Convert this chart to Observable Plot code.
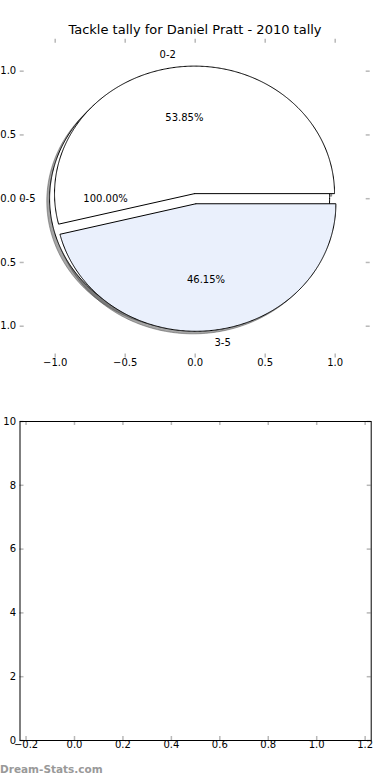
<!DOCTYPE html>
<html><head><meta charset="utf-8">
<script src="https://cdn.jsdelivr.net/npm/d3@7"></script>
<script src="https://cdn.jsdelivr.net/npm/@observablehq/plot@0.6"></script>
<style>
html,body{margin:0;padding:0;background:#fff;}
#wrap{position:relative;width:390px;height:780px;overflow:hidden;font-family:"DejaVu Sans",sans-serif;background:#fff;}
#top{position:absolute;left:0;top:0;}
#bottom{position:absolute;left:0;top:390px;}
#title{position:absolute;left:0;top:22px;width:390px;text-align:center;font-size:13px;line-height:16px;color:#000;white-space:nowrap;}
#mark{position:absolute;left:0;top:762px;font-size:10.5px;line-height:14px;font-weight:bold;color:#999;white-space:nowrap;}
</style></head><body>
<div id="wrap"><div id="top"></div><div id="bottom"></div><div id="title"></div><div id="mark"></div></div>
<script>
const titleText = "Tackle tally for Daniel Pratt - 2010 tally";
const watermarkText = "Dream-Stats.com";
// overall pie (drawn first, underneath)
const totalLabels = ["0-5"];
const totalValues = [13];
const totalColors = ["#ffffff"];
// split pie
const sliceLabels = ["0-2", "3-5"];
const sliceValues = [7, 6];
const sliceColors = ["#ffffff", "#eaf0fc"];
// axis ticks
const pieXTicks = [-1, -0.5, 0, 0.5, 1];
const pieYTicks = [-1, -0.5, 0, 0.5, 1];
const emptyXTicks = [-0.2, 0, 0.2, 0.4, 0.6, 0.8, 1.0, 1.2];
const emptyYTicks = [0, 2, 4, 6, 8, 10];

document.getElementById("title").textContent = titleText;
document.getElementById("mark").textContent = watermarkText;

const EXPLODE = 0.04, LABELDIST = 1.1, PCTDIST = 0.6, SHADOW = 0.02;

function buildPie(labels, values, colors) {
  const sum = d3.sum(values);
  const fr = sum > 1 ? values.map(v => v / sum) : values;
  let t1 = 0;
  return labels.map((label, i) => {
    const t2 = t1 + fr[i];
    const mid = Math.PI * (t1 + t2);
    const dx = Math.cos(mid), dy = Math.sin(mid);
    const cx = EXPLODE * dx, cy = EXPLODE * dy;
    const full = Math.abs(fr[i] - 1) < 1e-9;
    const pts = [];
    if (!full) pts.push({x: cx, y: cy});
    const n = Math.max(4, Math.ceil(fr[i] * 720));
    for (let k = 0; k <= n; k++) {
      const a = 2 * Math.PI * (t1 + (t2 - t1) * k / n);
      pts.push({x: cx + Math.cos(a), y: cy + Math.sin(a)});
    }
    if (!full) pts.push({x: cx, y: cy});
    const w = {
      label, color: colors[i % colors.length], pts,
      lx: cx + LABELDIST * dx, ly: cy + LABELDIST * dy,
      px: cx + PCTDIST * dx, py: cy + PCTDIST * dy,
      pct: (fr[i] * 100).toFixed(2) + "%"
    };
    t1 = t2;
    return w;
  });
}

const wedges = [...buildPie(totalLabels, totalValues, totalColors), ...buildPie(sliceLabels, sliceValues, sliceColors)];
const f1 = d3.format(".1f");
const tickColor = "#b8b8b8";
const style = {fontFamily: "DejaVu Sans", fontSize: "10px", background: "transparent", color: "#000", overflow: "visible"};

const pieLim = 1.25;
const pieX = 4 / 140, pieY = 4 / 127.5;
const topPlot = Plot.plot({
  width: 390, height: 390,
  marginLeft: 19.7, marginRight: 20.3, marginTop: 38.8, marginBottom: 32.4,
  x: {domain: [-pieLim, pieLim], axis: null},
  y: {domain: [-pieLim, pieLim], axis: null},
  style,
  marks: [
    Plot.ruleX(pieXTicks, {x: d => d, y1: pieLim, y2: pieLim - pieY, stroke: tickColor, strokeWidth: 1.5}),
    Plot.ruleX(pieXTicks, {x: d => d, y1: -pieLim, y2: -pieLim + pieY, stroke: tickColor, strokeWidth: 1.5}),
    Plot.ruleY(pieYTicks, {y: d => d, x1: -pieLim, x2: -pieLim + pieX, stroke: tickColor, strokeWidth: 1.5}),
    Plot.ruleY(pieYTicks, {y: d => d, x1: pieLim, x2: pieLim - pieX, stroke: tickColor, strokeWidth: 1.5}),
    ...wedges.map(w => Plot.line(w.pts, {x: d => d.x - SHADOW, y: d => d.y - SHADOW, fill: "#4d4d4d", fillOpacity: 0.5, stroke: "#4d4d4d", strokeOpacity: 0.5, strokeWidth: 1, strokeLinejoin: "miter"})),
    ...wedges.map(w => Plot.line(w.pts, {x: "x", y: "y", fill: w.color, stroke: "#000", strokeWidth: 1, strokeLinejoin: "miter"})),
    Plot.text(wedges.filter(w => w.lx <= 0), {x: "lx", y: "ly", text: "label", textAnchor: "end"}),
    Plot.text(wedges.filter(w => w.lx > 0), {x: "lx", y: "ly", text: "label", textAnchor: "start"}),
    Plot.text(wedges, {x: "px", y: "py", text: "pct"}),
    Plot.text(pieXTicks, {x: d => d, frameAnchor: "bottom", dy: 8, text: d => f1(d)}),
    Plot.text(pieYTicks, {y: d => d, frameAnchor: "left", dx: -4, textAnchor: "end", text: d => f1(d)})
  ]
});
document.getElementById("top").appendChild(topPlot);

const exL = -0.225, exR = 1.225;
const exX = 4 / 242.3, exY = 4 / 31.9;
const bottomPlot = Plot.plot({
  width: 390, height: 390,
  marginLeft: 19.5, marginRight: 19.3, marginTop: 31, marginBottom: 40,
  x: {domain: [exL, exR], axis: null},
  y: {domain: [0, 10], axis: null},
  style,
  marks: [
    Plot.ruleX(emptyXTicks, {x: d => d, y1: 10, y2: 10 - exY, stroke: tickColor, strokeWidth: 1.5}),
    Plot.ruleX(emptyXTicks, {x: d => d, y1: 0, y2: exY, stroke: tickColor, strokeWidth: 1.5}),
    Plot.ruleY(emptyYTicks, {y: d => d, x1: exL, x2: exL + exX, stroke: tickColor, strokeWidth: 1.5}),
    Plot.ruleY(emptyYTicks, {y: d => d, x1: exR, x2: exR - exX, stroke: tickColor, strokeWidth: 1.5}),
    Plot.frame({stroke: "#000", strokeWidth: 1}),
    Plot.text(emptyXTicks, {x: d => d, frameAnchor: "bottom", dy: 7, text: d => f1(d)}),
    Plot.text(emptyYTicks, {y: d => d, frameAnchor: "left", dx: -4, textAnchor: "end", text: d => String(d)})
  ]
});
document.getElementById("bottom").appendChild(bottomPlot);
</script>
</body></html>
